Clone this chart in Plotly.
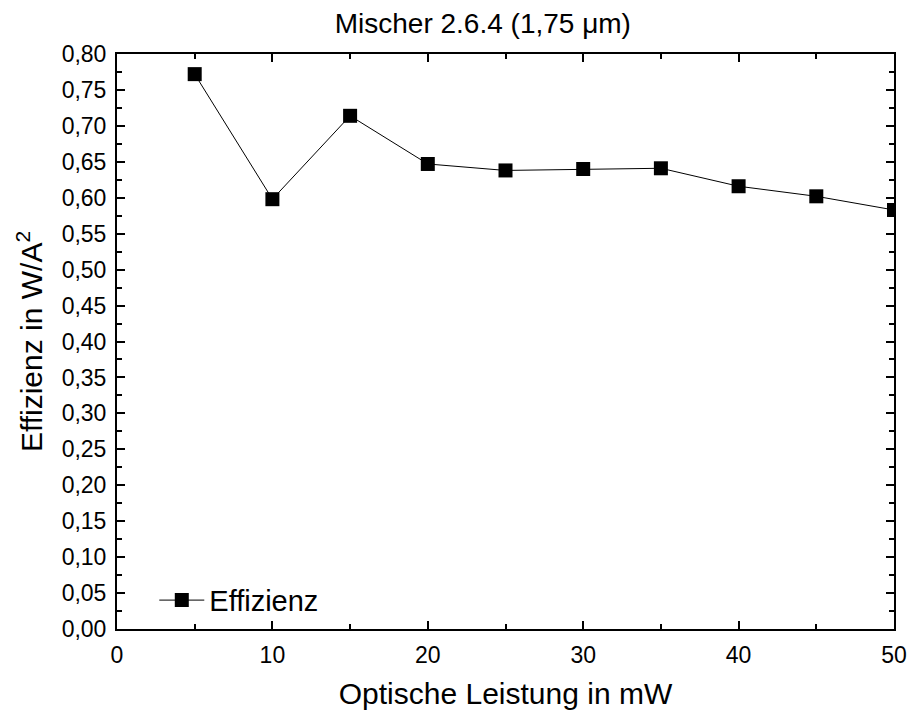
import plotly.graph_objects as go

power_mw = [5, 10, 15, 20, 25, 30, 35, 40, 45, 50]
efficiency = [0.772, 0.598, 0.714, 0.647, 0.638, 0.640, 0.641, 0.616, 0.602, 0.583]

FONT = "Liberation Sans, Arial"

fig = go.Figure()
fig.add_trace(go.Scatter(
    x=power_mw, y=efficiency, mode="lines+markers", name="Effizienz",
    line=dict(color="black", width=1),
    marker=dict(symbol="square", size=14, color="black"),
))

axis_common = dict(
    showline=True, linecolor="black", linewidth=2, mirror="allticks",
    ticks="inside", ticklen=8, tickwidth=2, tickcolor="black",
    showgrid=False, zeroline=False, ticklabelstandoff=4, automargin=False,
    tickfont=dict(family=FONT, size=23, color="black"),
)

fig.update_xaxes(
    range=[0, 50], dtick=10, tick0=0,
    minor=dict(ticks="inside", ticklen=5, tickwidth=2, tickcolor="black", dtick=5),
    title=dict(text="Optische Leistung in mW", font=dict(family=FONT, size=30, color="black"), standoff=16),
    **axis_common,
)
fig.update_yaxes(
    range=[0, 0.80], dtick=0.05, tick0=0, tickformat=".2f",
    minor=dict(ticks="inside", ticklen=5, tickwidth=2, tickcolor="black", dtick=0.025),
    title=dict(text="Effizienz in W/A<sup>2</sup>", font=dict(family=FONT, size=30, color="black"), standoff=10),
    **axis_common,
)

fig.update_layout(
    width=911, height=713,
    margin=dict(l=117, r=17, t=54, b=84),
    paper_bgcolor="white", plot_bgcolor="white",
    separators=",.",
    title=dict(text="Mischer 2.6.4 (1,75 μm)", x=0.530, xanchor="center", y=0.968, yanchor="middle",
               automargin=False,
               font=dict(family=FONT, size=28, color="black")),
    legend=dict(x=0.048, y=0.05, xanchor="left", yanchor="middle", bgcolor="rgba(0,0,0,0)",
                itemwidth=45,
                font=dict(family=FONT, size=29, color="black")),
    showlegend=True,
)

fig.write_html("out.html")
